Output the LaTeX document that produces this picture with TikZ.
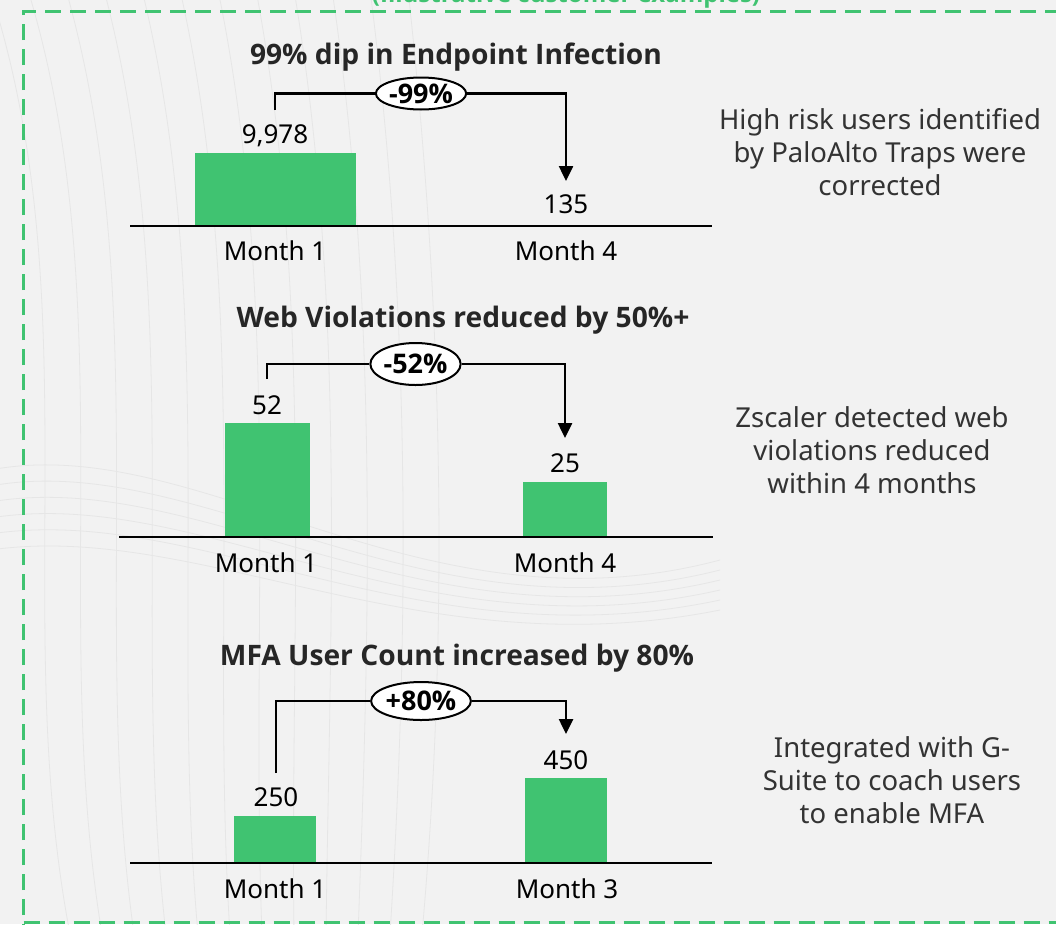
\documentclass[tikz,border=0pt]{standalone}
\usepackage{fontspec}
\setmainfont{Noto Sans}
\newfontfamily\strongfont{Open Sans}
\usetikzlibrary{arrows.meta,shapes.geometric}
\definecolor{bg}{HTML}{F2F2F2}
\definecolor{brand}{HTML}{40C371}
\definecolor{ink}{HTML}{262626}
\definecolor{notecol}{HTML}{333333}
\definecolor{wave}{HTML}{E6E6E6}

\begin{document}
\begin{tikzpicture}[x=1pt,y=-1pt,
  bar/.style={fill=brand, draw=none},
  axisline/.style={line width=2.5pt, black},
  val/.style={font=\fontsize{26}{30}\selectfont, text=black, inner sep=0pt, text depth=0pt},
  monthlbl/.style={font=\fontsize{26}{30}\selectfont, text=black, inner sep=0pt, text depth=0pt},
  heading/.style={font=\strongfont\bfseries\fontsize{28.2}{32}\selectfont, text=ink, inner sep=0pt, text depth=0pt},
  pct/.style={ellipse, draw=black, line width=2pt, fill=white, inner sep=0pt,
              font=\strongfont\bfseries\fontsize{27}{30}\selectfont, text=black},
  bracket/.style={line width=2.5pt, black, -{Triangle[width=14pt,length=15pt]}},
  bracketstart/.style={line width=2.5pt, black},
  notetext/.style={align=center, text=notecol, font=\fontsize{27.5}{33}\selectfont, inner sep=0pt},
  frame/.style={draw=brand, line width=3pt, dash pattern=on 16pt off 9pt},
  wavy/.style={draw=wave, line width=0.8pt}
]
% page and background
\useasboundingbox (0,0) rectangle (1056,924);
\fill[bg] (0,0) rectangle (1056,924);

% faint decorative wave texture
\foreach \i in {0,...,11} {
  \draw[wavy] ({-10+\i*38},-10) .. controls ({90+\i*32},300) and ({10+\i*40},620) .. ({70+\i*32},934);
}
\foreach \i in {0,...,5} {
  \draw[wavy] (-10,{470+\i*16}) .. controls (200,{430+\i*18}) and (420,{640+\i*6}) .. (720,{560+\i*10});
}

% dashed frame and its caption
\draw[frame] (23.5,940) -- (23.5,11.5) -- (1080,11.5);
\draw[frame] (23.5,922.5) -- (1080,922.5);
\node[font=\strongfont\bfseries\fontsize{24}{28}\selectfont, text=brand, inner sep=0pt] (caption) at (566,-4) {(Illustrative customer examples)};

% ---------- chart 1 ----------
\node[heading] (h1) at (456,54) {99\% dip in Endpoint Infection};
\fill[bar] (195,153) rectangle (356,226);
\draw[axisline] (130,226) -- (712,226);
\node[val] (v11) at (275,134) {9,978};
\node[val] (v12) at (566,204) {135};
\node[monthlbl] (m11) at (275,251) {Month 1};
\node[monthlbl] (m12) at (566,251) {Month 4};
\node[pct, minimum width=90pt, minimum height=32pt] (p1) at (421,93.5) {-99\%};
\coordinate (s1) at (275,110);
\coordinate (e1) at (566,181);
\draw[bracketstart] (s1) |- (p1.west);
\draw[bracket] (p1.east) -| (e1);
\node[notetext] (n1) at (880,152) {High risk users identified\\by PaloAlto Traps were\\corrected};

% ---------- chart 2 ----------
\node[heading] (h2) at (463,317) {Web Violations reduced by 50\%+};
\fill[bar] (225,423) rectangle (310,537);
\fill[bar] (523,482) rectangle (607,537);
\draw[axisline] (119,537) -- (713,537);
\node[val] (v21) at (267,405) {52};
\node[val] (v22) at (565,463) {25};
\node[monthlbl] (m21) at (266,563) {Month 1};
\node[monthlbl] (m22) at (565,563) {Month 4};
\node[pct, minimum width=89pt, minimum height=42pt] (p2) at (415.5,364) {-52\%};
\coordinate (s2) at (267,379);
\coordinate (e2) at (565,438);
\draw[bracketstart] (s2) |- (p2.west);
\draw[bracket] (p2.east) -| (e2);
\node[notetext] (n2) at (872,450) {Zscaler detected web\\violations reduced\\within 4 months};

% ---------- chart 3 ----------
\node[heading] (h3) at (457,655) {MFA User Count increased by 80\%};
\fill[bar] (234,816) rectangle (316,863);
\fill[bar] (525,778) rectangle (607,863);
\draw[axisline] (130,863) -- (712,863);
\node[val] (v31) at (276,797) {250};
\node[val] (v32) at (566,760) {450};
\node[monthlbl] (m31) at (275,889) {Month 1};
\node[monthlbl] (m32) at (567,889) {Month 3};
\node[pct, minimum width=98pt, minimum height=38pt] (p3) at (421,701) {+80\%};
\coordinate (s3) at (276,773);
\coordinate (e3) at (566,734);
\draw[bracketstart] (s3) |- (p3.west);
\draw[bracket] (p3.east) -| (e3);
\node[notetext] (n3) at (892,780) {Integrated with G-\\Suite to coach users\\to enable MFA};
\end{tikzpicture}
\end{document}
